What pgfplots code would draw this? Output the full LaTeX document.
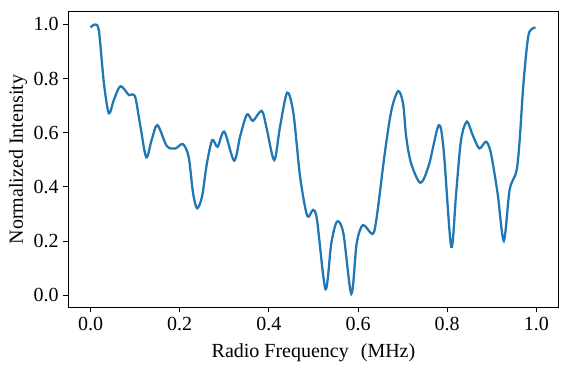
\documentclass[border=0pt]{standalone}
\usepackage{pgfplots}
\pgfplotsset{compat=1.18}
\usepackage{fontspec}
\setmainfont{Liberation Serif}
\definecolor{mplblue}{HTML}{1F77B4}

\pgfplotstableread{
x y
0.000 0.989
0.011 1.000
0.019 0.973
0.030 0.782
0.041 0.672
0.052 0.720
0.067 0.772
0.086 0.739
0.093 0.742
0.101 0.727
0.112 0.622
0.125 0.509
0.137 0.573
0.150 0.628
0.171 0.551
0.190 0.542
0.207 0.558
0.220 0.511
0.230 0.376
0.239 0.321
0.250 0.364
0.261 0.487
0.273 0.573
0.285 0.548
0.300 0.604
0.322 0.497
0.336 0.590
0.351 0.668
0.364 0.644
0.384 0.681
0.395 0.616
0.412 0.499
0.425 0.622
0.441 0.748
0.455 0.672
0.470 0.438
0.486 0.293
0.499 0.315
0.508 0.278
0.527 0.022
0.540 0.192
0.553 0.272
0.567 0.229
0.585 0.005
0.597 0.192
0.611 0.259
0.632 0.226
0.641 0.278
0.660 0.524
0.675 0.684
0.690 0.754
0.701 0.708
0.708 0.585
0.719 0.487
0.740 0.415
0.759 0.481
0.781 0.628
0.792 0.536
0.809 0.179
0.820 0.376
0.831 0.573
0.844 0.641
0.857 0.592
0.872 0.542
0.887 0.567
0.898 0.524
0.913 0.376
0.927 0.201
0.940 0.389
0.955 0.456
0.962 0.561
0.971 0.782
0.981 0.948
0.988 0.981
0.998 0.989
}\spectrum

\begin{document}
\begin{tikzpicture}
\begin{axis}[
    name=main,
    width=367.8pt, height=221.7pt,
    scale only axis,
    xmin=-0.05, xmax=1.05,
    ymin=-0.045, ymax=1.047,
    xtick={0,0.2,...,1.0},
    ytick={0,0.2,...,1.0},
    xticklabel style={/pgf/number format/.cd,fixed,fixed zerofill,precision=1},
    yticklabel style={/pgf/number format/.cd,fixed,fixed zerofill,precision=1},
    /pgf/number format/assume math mode=true,
    tick align=outside,
    tick pos=left,
    major tick length=3.75pt,
    tick style={black, line width=0.6pt},
    axis line style={line width=0.6pt},
    ticklabel style={font=\fontsize{15}{18}\selectfont},
    label style={font=\fontsize{15}{18}\selectfont},
    xlabel={Radio Frequency\hspace{0.35em} (MHz)},
    ylabel={Normalized Intensity},
    xlabel style={yshift=-3pt},
    ylabel style={yshift=-2pt},
]
\addplot[mplblue, line width=1.7pt, smooth, tension=0.5] table[x=x, y=y] {\spectrum};
\end{axis}
\path (main.south west) ++(-51.2pt,-47pt) coordinate (bbl);
\path (main.north east) ++(17.5pt,8.8pt) coordinate (btr);
\useasboundingbox (bbl) rectangle (btr);
\end{tikzpicture}
\end{document}
